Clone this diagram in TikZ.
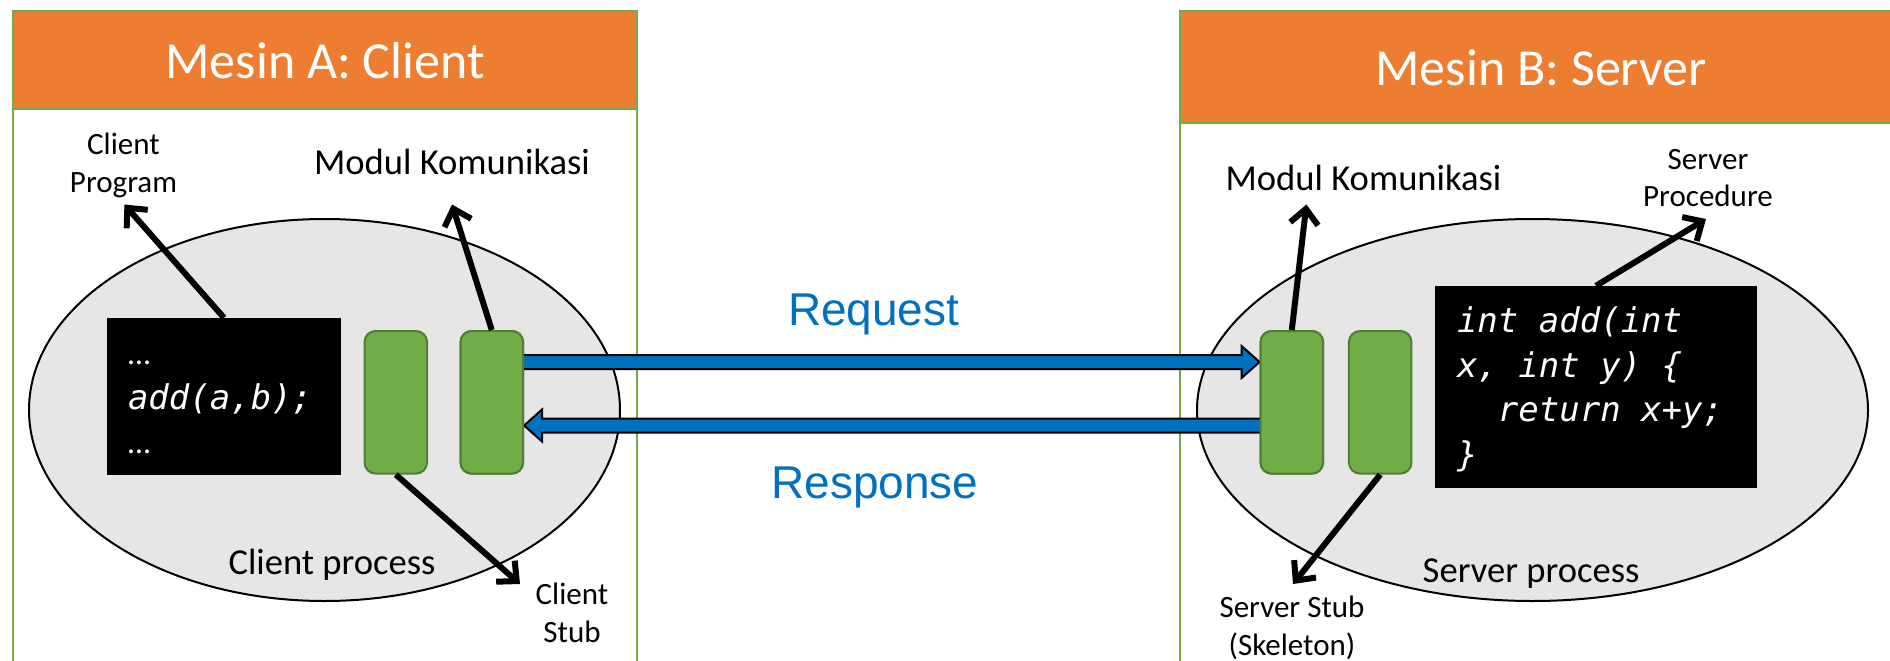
\documentclass[tikz,border=0pt]{standalone}
\usepackage{fontspec}
\setmainfont{Carlito}
\newfontfamily\msgfont{Liberation Sans}
\newfontfamily\codefont{DejaVu Sans Mono}
\usetikzlibrary{shapes.geometric,arrows.meta,calc}
\definecolor{hdrorange}{HTML}{ED7D31}
\definecolor{boxgreen}{HTML}{70AD47}
\definecolor{modgreen}{HTML}{70AD47}
\definecolor{modedge}{HTML}{507E32}
\definecolor{procgray}{HTML}{E7E6E6}
\definecolor{msgblue}{HTML}{0070C0}
% strut for code lines: height minus depth shifts the block to sit like the slide
\newcommand\cstrut{\rule[-9.75pt]{0pt}{44.5pt}}
% one fixed-width blank in the code font
\newcommand\csp{\hphantom{x}}
% light upright ellipsis for elided code
\newcommand\celide{{\normalfont\upshape\fontsize{32}{44.5}\selectfont …}}
\begin{document}
\begin{tikzpicture}[x=1pt,y=-1pt,
  machine/.style={draw=boxgreen, line width=2pt, fill=white, rectangle, inner sep=0pt, anchor=north west},
  header/.style={draw=boxgreen, line width=2pt, fill=hdrorange, rectangle, inner sep=0pt, anchor=north west,
    text=white, font=\fontsize{52}{62}\selectfont, text height=36pt, text depth=0pt},
  proc/.style={ellipse, draw=black, line width=2pt, fill=procgray, inner sep=0pt},
  codebox/.style={rectangle, fill=black, inner ysep=0pt, align=left, text=white,
    font=\codefont\itshape\fontsize{34}{44.5}\selectfont},
  module/.style={rectangle, rounded corners=11pt, fill=modgreen, draw=modedge, line width=2pt,
    minimum width=62.5pt, minimum height=142.6pt, inner sep=0pt},
  blockarrow/.style={fill=msgblue, draw=black, line width=2pt, line join=miter},
  callout/.style={draw=black, line width=6pt, -{Straight Barb[length=15pt,width=28pt]}},
  lbl/.style={align=center, inner sep=0pt, font=\fontsize{31}{37.3}\selectfont, anchor=base},
  lblbig/.style={inner sep=0pt, font=\fontsize{36.6}{44}\selectfont, anchor=base},
  msg/.style={inner sep=0pt, text=msgblue, font=\msgfont\fontsize{46}{55}\selectfont, anchor=base}]
\useasboundingbox (0,0) rectangle (1890,661);
\clip (0,0) rectangle (1890,661);

% the two machines with their title bars
\node[machine, minimum width=624, minimum height=700] (mA) at (12,10.5) {};
\node[machine, minimum width=722, minimum height=700] (mB) at (1179,10.5) {};
\node[header, minimum width=624, minimum height=97.5] (hA) at (12,10.5) {Mesin A: Client};
\node[header, minimum width=722, minimum height=111.5] (hB) at (1179,10.5) {Mesin B: Server};

% processes
\node[proc, minimum width=591, minimum height=382] (pA) at (324.5,410) {};
\node[proc, minimum width=671, minimum height=382] (pB) at (1532.5,410) {};

% code fragments
\node[codebox, text width=192, inner xsep=21, minimum height=157] (codeA) at (224,396.5)
  {\cstrut\celide\\\cstrut add(a,b);\\\cstrut\celide};
\node[codebox, text width=278, inner xsep=22, minimum height=202] (codeB) at (1596,387)
  {\cstrut int\csp add(int\\\cstrut x,\csp int\csp y)\csp\{\\\cstrut\csp\csp return\csp x+y;\\\cstrut \}};

% modules (stub and communication module) on both sides
\node[module] (stubA) at (395.8,402.3) {};
\node[module] (commA) at (491.8,402.3) {};
\node[module] (commB) at (1291.8,402.3) {};
\node[module] (stubB) at (1380.2,402.3) {};

% request and response arrows between the communication modules
\coordinate (rqS) at ($(commA.east)+(-4,-40.3)$);
\coordinate (rqE) at ($(commB.west)+(0,-40.3)$);
\draw[blockarrow] ($(rqS)+(0,-7)$) -- ($(rqE)+(-18,-7)$) -- ($(rqE)+(-18,-16)$) -- (rqE)
  -- ($(rqE)+(-18,16)$) -- ($(rqE)+(-18,7)$) -- ($(rqS)+(0,7)$) -- cycle;
\coordinate (rsS) at ($(commB.west)+(4,23.2)$);
\coordinate (rsE) at ($(commA.east)+(0,23.2)$);
\draw[blockarrow] ($(rsS)+(0,-7)$) -- ($(rsE)+(18,-7)$) -- ($(rsE)+(18,-16)$) -- (rsE)
  -- ($(rsE)+(18,16)$) -- ($(rsE)+(18,7)$) -- ($(rsS)+(0,7)$) -- cycle;
% redraw module faces over the arrow ends
\node[module] at (commA) {};
\node[module] at (commB) {};

% labels (multi-line labels sit on the baseline of their last line)
\node[lbl] (lCP) at (123.5,192) {Client\\Program};
\node[lblbig] (lMA) at (452,174) {Modul Komunikasi};
\node[lbl] (lCS) at (572,642) {Client\\Stub};
\node[lblbig] (lPA) at (332,574) {Client process};
\node[lblbig] (lMB) at (1363.5,190) {Modul Komunikasi};
\node[lbl] (lSP) at (1708,206.6) {Server\\Procedure};
\node[lbl] (lSS) at (1292,655) {Server Stub\\(Skeleton)};
\node[lblbig] (lPB) at (1531,582) {Server process};
\node[msg] (rq) at (873.7,325) {Request};
\node[msg] (rs) at (875,498) {Response};

% pointer arrows from parts to their names
\coordinate (tCP) at (124.4,204.5);
\coordinate (tMA) at (452,204.5);
\coordinate (tCS) at (520,584);
\coordinate (tMB) at (1306.4,204.5);
\coordinate (tSP) at (1706,219);
\coordinate (tSS) at (1293,584);
\draw[callout] (codeA.north) -- (tCP);
\draw[callout] (commA.north) -- (tMA);
\draw[callout] (stubA.south) -- (tCS);
\draw[callout] (commB.north) -- (tMB);
\draw[callout] (codeB.north) -- (tSP);
\draw[callout] (stubB.south) -- (tSS);
\end{tikzpicture}
\end{document}
